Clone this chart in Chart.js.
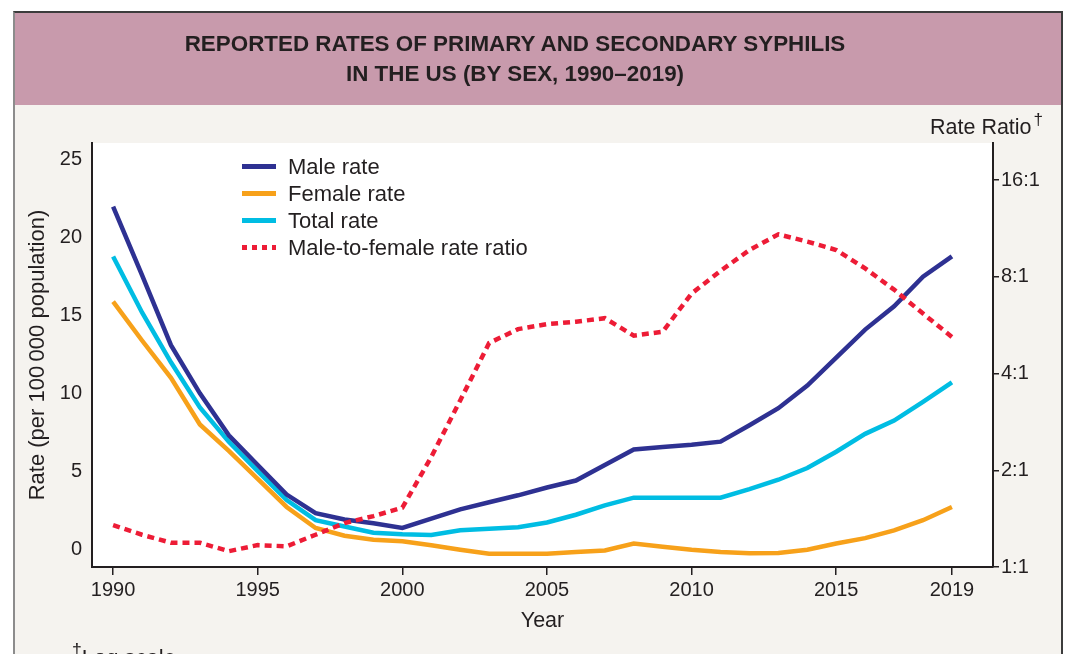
<!DOCTYPE html>
<html>
<head>
<meta charset="utf-8">
<script src="https://cdn.jsdelivr.net/npm/chart.js@4.4.1/dist/chart.umd.min.js"></script>
<style>
  body { margin: 0; width: 1072px; height: 654px; overflow: hidden; background: #fff;
         font-family: "Liberation Sans", Arial, sans-serif; color: #231f20; position: relative; }
  #frame { position: absolute; left: 13px; top: 11px; width: 1046px; height: 700px;
           border: 2px solid #3c3c3c; border-left-color: #8c8c8c; background: #f5f3ef; }
  #banner { position: absolute; left: 0; top: 0; right: 0; height: 92px; background: #c89aac; }
  #title { position: absolute; left: 0; width: 1030px; top: 29px; text-align: center;
           font-weight: bold; font-size: 22.4px; line-height: 30px; z-index: 2; }
  #chart { position: absolute; left: 0; top: 0; z-index: 1; }
  #ratioTitle { position: absolute; left: 930px; top: 114px; font-size: 21.5px; line-height: 26px; z-index: 2; }
  .dag { font-size: 0.8em; line-height: 0; position: relative; top: -0.5em; margin-left: 2px; }
  #legend { position: absolute; left: 242px; top: 153px; margin: 0; padding: 0; list-style: none; z-index: 2; }
  #legend li { height: 27px; display: flex; align-items: center; font-size: 22px; }
  #legend .sw { width: 34px; height: 5px; margin-right: 12px; }
  #note { position: absolute; left: 70px; top: 647px; font-size: 22px; line-height: 22px; z-index: 2; }
</style>
</head>
<body>
<div id="frame"><div id="banner"></div></div>
<div id="title">REPORTED RATES OF PRIMARY AND SECONDARY SYPHILIS<br>IN THE US (BY SEX, 1990–2019)</div>
<canvas id="chart" width="1072" height="654"></canvas>
<div id="ratioTitle">Rate Ratio<span class="dag">†</span></div>
<ul id="legend"></ul>
<div id="note"><span class="dag">†</span>Log scale</div>

<script>
// data
const years = [1990, 1991, 1992, 1993, 1994, 1995, 1996, 1997, 1998, 1999,
               2000, 2001, 2002, 2003, 2004, 2005, 2006, 2007, 2008, 2009,
               2010, 2011, 2012, 2013, 2014, 2015, 2016, 2017, 2018, 2019];

const maleRate = [22.0, 17.6, 13.1, 10.0, 7.3, 5.4, 3.5, 2.3, 1.9, 1.65,
                  1.35, 1.95, 2.55, 3.0, 3.45, 3.95, 4.4, 5.4, 6.4, 6.55,
                  6.7, 6.9, 7.95, 9.05, 10.5, 12.3, 14.1, 15.6, 17.5, 18.8];

const femaleRate = [15.9, 13.4, 11.0, 8.0, 6.3, 4.5, 2.7, 1.35, 0.85, 0.6,
                    0.5, 0.24, -0.05, -0.3, -0.3, -0.3, -0.2, -0.1, 0.35, 0.15,
                    -0.05, -0.2, -0.28, -0.25, -0.05, 0.35, 0.7, 1.2, 1.85, 2.7];

const totalRate = [18.8, 15.2, 12.0, 9.1, 6.9, 5.0, 3.15, 1.85, 1.45, 1.05,
                   0.95, 0.9, 1.2, 1.3, 1.4, 1.7, 2.2, 2.8, 3.3, 3.3,
                   3.3, 3.3, 3.85, 4.45, 5.2, 6.25, 7.4, 8.25, 9.45, 10.7];

const rateRatio = [1.35, 1.26, 1.19, 1.19, 1.12, 1.17, 1.16, 1.26, 1.37, 1.44,
                   1.53, 2.2, 3.3, 4.98, 5.5, 5.7, 5.8, 5.95, 5.25, 5.4,
                   7.1, 8.35, 9.7, 10.85, 10.3, 9.7, 8.5, 7.3, 6.15, 5.2];

const yearTicks = [1990, 1995, 2000, 2005, 2010, 2015, 2019];
const rateTicks = [0, 5, 10, 15, 20, 25];
const ratioTicks = [1, 2, 4, 8, 16];

const seriesNames = ['Male rate', 'Female rate', 'Total rate', 'Male-to-female rate ratio'];
const seriesColors = ['#2e3192', '#f7a11a', '#00bde3', '#ed1c36'];

const ink = '#231f20';

function points(values) {
    return values.map((v, i) => ({ x: years[i], y: v }));
}

// white plotting area
const plotBackground = {
    id: 'plotBackground',
    beforeDraw(chart) {
        const { ctx, chartArea: a } = chart;
        ctx.save();
        ctx.fillStyle = '#ffffff';
        ctx.fillRect(a.left, a.top, a.right - a.left, a.bottom - a.top);
        ctx.restore();
    }
};

function line(i, values, extra) {
    return Object.assign({
        label: seriesNames[i],
        data: points(values),
        borderColor: seriesColors[i],
        backgroundColor: seriesColors[i],
        borderWidth: 4.5,
        pointRadius: 0,
        tension: 0,
        yAxisID: 'y',
        order: i + 1,
    }, extra || {});
}

new Chart(document.getElementById('chart'), {
    type: 'line',
    data: {
        datasets: [
            line(0, maleRate),
            line(1, femaleRate, { order: 3 }),
            line(2, totalRate, { order: 2 }),
            line(3, rateRatio, { yAxisID: 'y1', borderDash: [7, 5], order: 0 }),
        ],
    },
    options: {
        responsive: false,
        animation: false,
        layout: { padding: { top: 143, left: 0, right: 0, bottom: 20 } },
        plugins: {
            legend: { display: false },
            tooltip: { enabled: false },
        },
        scales: {
            x: {
                type: 'linear',
                min: 1989.27,
                max: 2020.42,
                afterBuildTicks: s => { s.ticks = yearTicks.map(v => ({ value: v })); },
                afterFit: s => { s.height = 67; },
                grid: { drawOnChartArea: false, tickLength: 8, color: ink, lineWidth: 1.5 },
                border: { display: true, color: ink, width: 2 },
                ticks: { color: ink, font: { size: 20 }, padding: 3, maxRotation: 0, autoSkip: false,
                         callback: v => String(v) },
                title: { display: true, text: 'Year', color: ink, font: { size: 21.5 },
                         padding: { top: 0, bottom: 0 } },
            },
            y: {
                position: 'left',
                min: -1.157,
                max: 26.09,
                afterBuildTicks: s => { s.ticks = rateTicks.map(v => ({ value: v })); },
                afterFit: s => { s.width = 92; },
                grid: { drawOnChartArea: false, drawTicks: false },
                border: { display: true, color: ink, width: 2 },
                ticks: { color: ink, font: { size: 20 }, padding: 10 },
                title: { display: true, text: 'Rate (per 100\u2009000 population)', color: ink,
                         font: { size: 22 }, padding: { top: 25, bottom: 0 } },
            },
            y1: {
                type: 'logarithmic',
                position: 'right',
                min: 1,
                max: 20.88,
                afterBuildTicks: s => { s.ticks = ratioTicks.map(v => ({ value: v })); },
                afterFit: s => { s.width = 79; },
                grid: { drawOnChartArea: false, tickLength: 6, color: ink, lineWidth: 1.5 },
                border: { display: true, color: ink, width: 2 },
                ticks: { color: ink, font: { size: 20 }, padding: 2, callback: v => v + ':1' },
            },
        },
    },
    plugins: [plotBackground],
});

// legend
const legend = document.getElementById('legend');
seriesNames.forEach((name, i) => {
    const li = document.createElement('li');
    const sw = document.createElement('span');
    sw.className = 'sw';
    if (i === 3) {
        sw.style.background = 'repeating-linear-gradient(90deg, ' + seriesColors[i] + ' 0 5px, transparent 5px 10px)';
    } else {
        sw.style.background = seriesColors[i];
    }
    li.appendChild(sw);
    li.appendChild(document.createTextNode(name));
    legend.appendChild(li);
});
</script>
</body>
</html>
